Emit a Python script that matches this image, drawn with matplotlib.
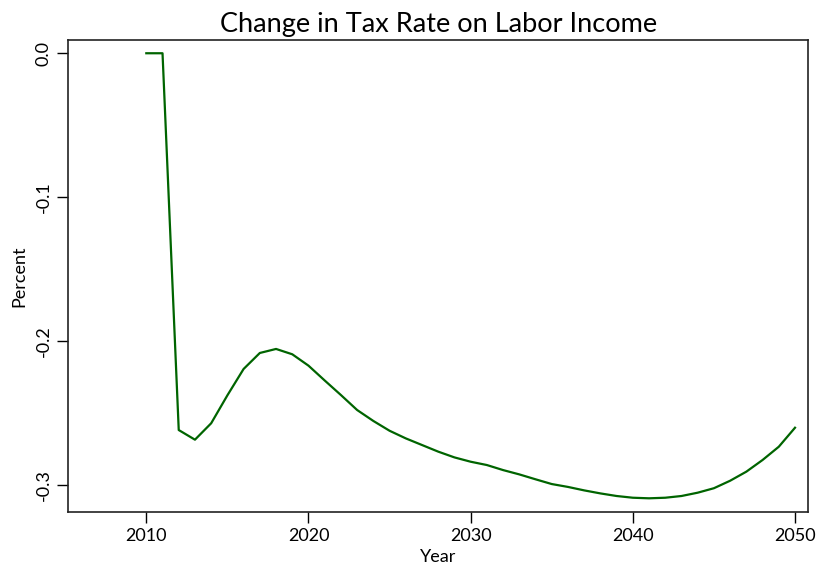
import matplotlib
matplotlib.use("Agg")
import matplotlib.pyplot as plt

years = list(range(2010, 2051))
values = [0.0, 0.0, -0.2616, -0.2683, -0.2569, -0.2375, -0.2192, -0.2081, -0.2053, -0.2090,
          -0.2169, -0.2272, -0.2373, -0.2477, -0.2553, -0.2621, -0.2674, -0.2720, -0.2766, -0.2806,
          -0.2836, -0.2859, -0.2894, -0.2924, -0.2958, -0.2991, -0.3011, -0.3035, -0.3056, -0.3074,
          -0.3086, -0.3090, -0.3086, -0.3074, -0.3051, -0.3020, -0.2968, -0.2905, -0.2824, -0.2732,
          -0.2600]
xticks = [2010, 2020, 2030, 2040, 2050]
yticks = [0.0, -0.1, -0.2, -0.3]
ytick_labels = ["0.0", "-0.1", "-0.2", "-0.3"]

plt.rcParams['font.family'] = ['Lato', 'DejaVu Sans']
fig = plt.figure(figsize=(8.2, 5.69), dpi=100)
ax = fig.add_axes([68.3/820, 1 - 511.7/569, (808.3 - 68.3)/820, (511.7 - 40)/569])
ax.plot(years, values, color='#006400', linewidth=1.6)
ax.set_xlim(2005.19, 2050.82)
ax.set_ylim(-0.3183, 0.0092)
ax.set_xticks(xticks)
ax.set_xticklabels([str(x) for x in xticks], fontsize=13)
ax.set_yticks(yticks)
ax.set_yticklabels(ytick_labels, fontsize=13, rotation=90, va='center')
ax.tick_params(axis='both', length=8, width=1, color='black', pad=4)
for s in ax.spines.values():
    s.set_linewidth(1.2)
    s.set_color('#222222')
ax.set_title("Change in Tax Rate on Labor Income", fontsize=19.5, pad=6)
ax.set_xlabel("Year", fontsize=13, labelpad=3)
ax.set_ylabel("Percent", fontsize=13, labelpad=6)
fig.savefig("out.png", dpi=100)
